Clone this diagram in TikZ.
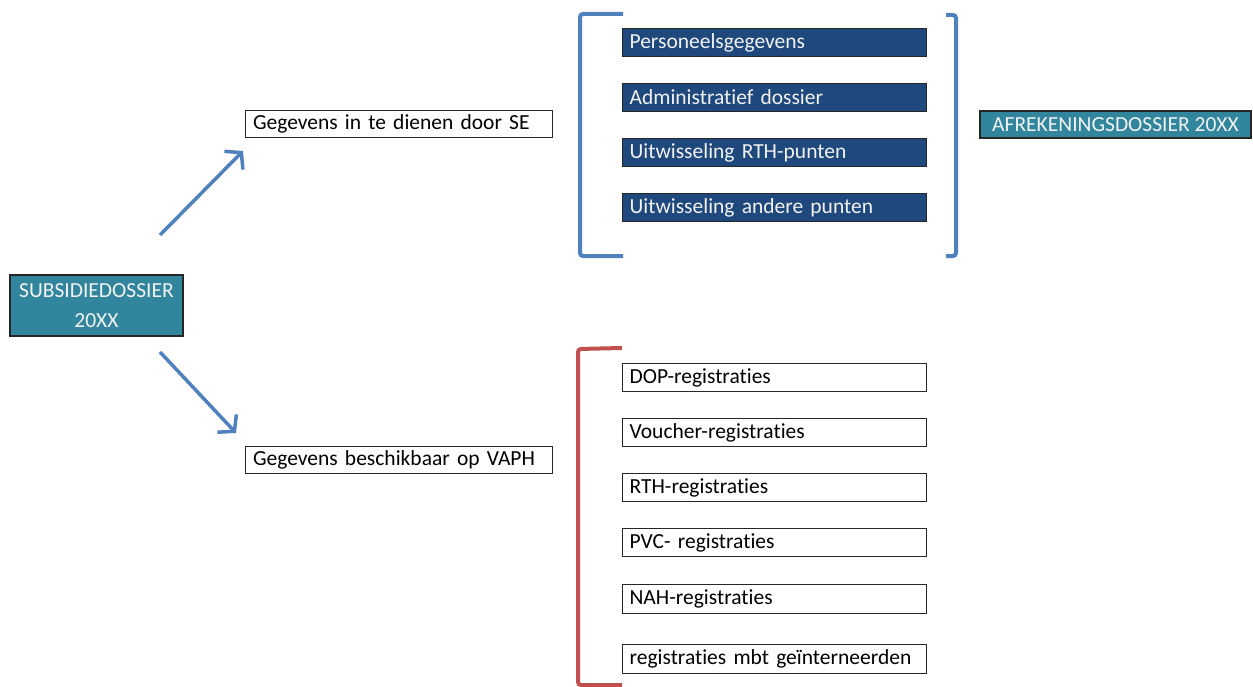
\documentclass[tikz,border=0pt]{standalone}
\usepackage{fontspec}
\setmainfont{Carlito}[Ligatures={NoCommon,NoDiscretionary,NoContextual}]
\usetikzlibrary{arrows.meta}
\newcommand{\tI}{t\kern0pt i}
\definecolor{tealbox}{HTML}{31859C}
\definecolor{navybox}{HTML}{1F497D}
\definecolor{arrowblue}{HTML}{4F81BD}
\definecolor{bracketred}{HTML}{C0504D}
\definecolor{boxtext}{HTML}{F2F2F2}
\tikzset{
  lbl/.style={draw=black!85, line width=1.2pt, anchor=north west, inner sep=0pt,
    font=\fontsize{21.5}{25}\selectfont, align=left},
  whitebox/.style={lbl, fill=white, text=black},
  navy/.style={lbl, fill=navybox, text=boxtext},
  tealb/.style={draw=black!85, line width=1.2pt, fill=tealbox, text=boxtext,
    font=\fontsize{21.5}{30}\selectfont, align=center, inner sep=0pt},
  flow/.style={draw=arrowblue, line width=3.5pt, -{Straight Barb[length=11pt,width=26pt]}},
  brk/.style={line width=4pt, rounded corners=3pt}
}
\begin{document}
\begin{tikzpicture}[x=1pt,y=-1pt]
\useasboundingbox (0,0) rectangle (1253,687);
% left box
\node[tealb, minimum width=173pt, minimum height=61pt] (sub) at (96.5,305.5) {SUBSIDIEDOSSIER\\20XX};
% middle boxes
\node[whitebox, minimum width=307pt, minimum height=27pt, text width=300pt] (se) at (245,110) {\hspace*{4pt}Gegevens in te dienen door SE};
\node[whitebox, minimum width=307pt, minimum height=27pt, text width=300pt] (vaph) at (245,446) {\hspace*{4pt}Gegevens beschikbaar op VAPH};
% arrows
\coordinate (a1s) at (160,235);
\coordinate (a1e) at (243,151);
\coordinate (a2s) at (160,352);
\coordinate (a2e) at (236,433);
\draw[flow] (a1s) -- (a1e);
\draw[flow] (a2s) -- (a2e);
% blue group
\node[navy, minimum width=304pt, minimum height=28pt, text width=300pt] (p1) at (622,28) {\hspace*{5pt}Personeelsgegevens};
\node[navy, minimum width=304pt, minimum height=28pt, text width=300pt] (p2) at (622,83) {\hspace*{5pt}Administra\tI ef dossier};
\node[navy, minimum width=304pt, minimum height=28pt, text width=300pt] (p3) at (622,138) {\hspace*{5pt}Uitwisseling RTH-punten};
\node[navy, minimum width=304pt, minimum height=28pt, text width=300pt] (p4) at (622,193) {\hspace*{5pt}Uitwisseling andere punten};
\coordinate (bl1) at (623,14);
\coordinate (bl2) at (580,14);
\coordinate (bl3) at (580,256);
\coordinate (bl4) at (623,256);
\draw[brk, draw=arrowblue] (bl1) -- (bl2) -- (bl3) -- (bl4);
\coordinate (br1) at (946,15);
\coordinate (br2) at (956,15);
\coordinate (br3) at (956,256);
\coordinate (br4) at (946,256);
\draw[brk, draw=arrowblue] (br1) -- (br2) -- (br3) -- (br4);
% afrekening
\node[tealb, minimum width=271pt, minimum height=27pt] (afr) at (1115.5,124.5) {AFREKENINGSDOSSIER 20XX};
% red group
\node[whitebox, minimum width=304pt, minimum height=28pt, text width=300pt] (r1) at (622,363) {\hspace*{5pt}DOP-registra\tI es};
\node[whitebox, minimum width=304pt, minimum height=28pt, text width=300pt] (r2) at (622,418) {\hspace*{5pt}Voucher-registra\tI es};
\node[whitebox, minimum width=304pt, minimum height=28pt, text width=300pt] (r3) at (622,473) {\hspace*{5pt}RTH-registra\tI es};
\node[whitebox, minimum width=304pt, minimum height=28pt, text width=300pt] (r4) at (622,528) {\hspace*{5pt}PVC- registra\tI es};
\node[whitebox, minimum width=304pt, minimum height=29pt, text width=300pt] (r5) at (622,584) {\hspace*{5pt}NAH-registra\tI es};
\node[whitebox, minimum width=304pt, minimum height=29pt, text width=300pt] (r6) at (622,644) {\hspace*{5pt}registra\tI es mbt geïnterneerden};
\coordinate (rb1) at (622,348);
\coordinate (rb2) at (578,349);
\coordinate (rb3) at (578,685);
\coordinate (rb4) at (622,685);
\draw[brk, draw=bracketred] (rb1) -- (rb2) -- (rb3) -- (rb4);
\end{tikzpicture}
\end{document}
